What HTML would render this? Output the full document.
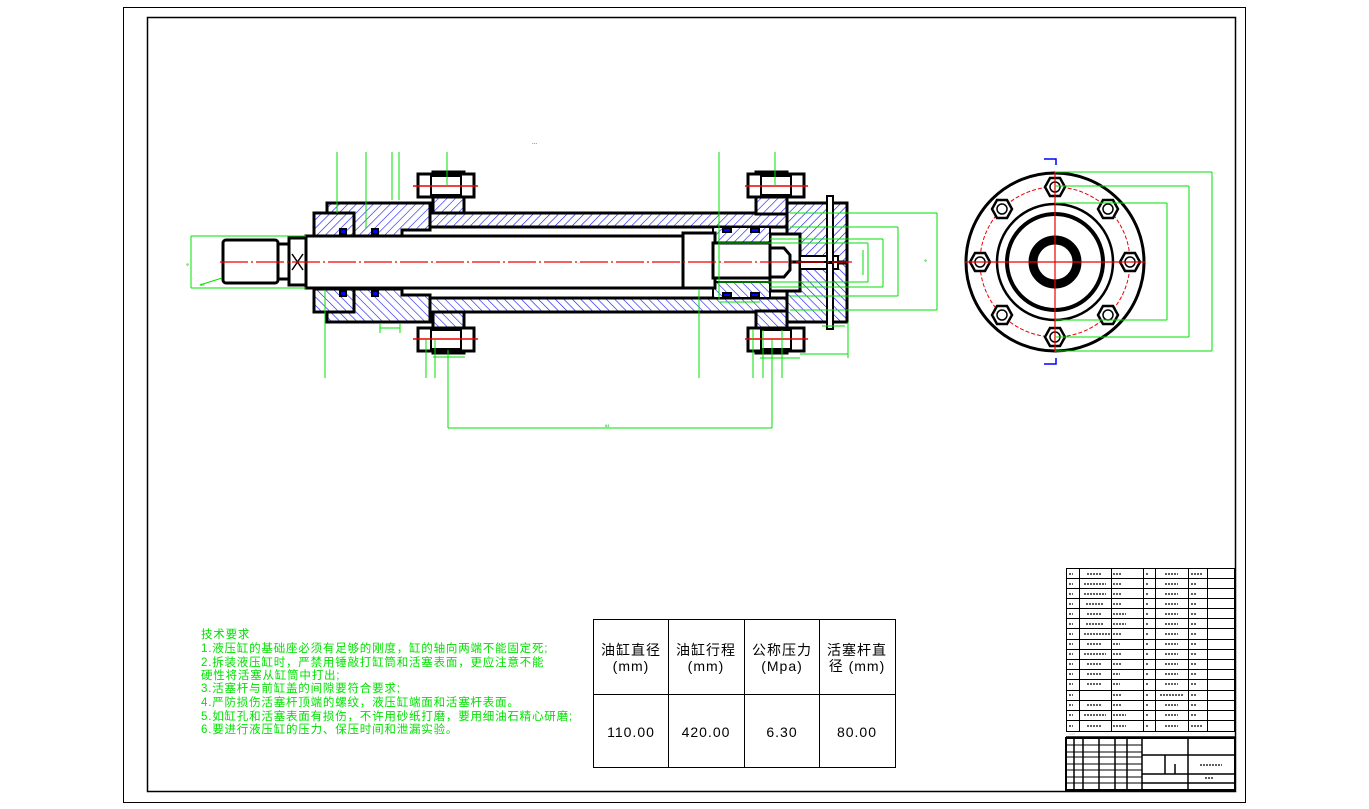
<!DOCTYPE html>
<html><head><meta charset="utf-8"><style>
html,body{margin:0;padding:0;background:#fff;}
svg{display:block;}
.t{font-family:"Liberation Sans","Noto Sans CJK SC",sans-serif;}
</style></head><body>
<svg width="1369" height="809" viewBox="0 0 1369 809" xmlns="http://www.w3.org/2000/svg">
<defs>
<pattern id="h" patternUnits="userSpaceOnUse" width="6" height="6" patternTransform="rotate(45)">
<rect width="6" height="6" fill="#fff"/><line x1="0" y1="0" x2="0" y2="6" stroke="#1010ff" stroke-width="1.2"/>
</pattern>
<g id="top">
<rect x="314" y="213" width="40" height="23" fill="url(#h)" stroke="#000" stroke-width="3"/>
<polygon points="327,203 430,203 430,230 402,230 402,236 354,236 354,213 327,213" fill="url(#h)" stroke="#000" stroke-width="3"/>
<rect x="433" y="172" width="31" height="42" fill="url(#h)" stroke="#000" stroke-width="3"/>
<rect x="430" y="213" width="360" height="14" fill="url(#h)" stroke="#000" stroke-width="3"/>
<rect x="756" y="172" width="31" height="42" fill="url(#h)" stroke="#000" stroke-width="3"/>
<rect x="787" y="203" width="60" height="59" fill="url(#h)" stroke="#000" stroke-width="3"/>
<rect x="770" y="234" width="30" height="29" fill="#fff" stroke="#000" stroke-width="3"/>
<rect x="800" y="256" width="38" height="7" fill="#fff" stroke="#000" stroke-width="2"/>
<rect x="713" y="227" width="57" height="16" fill="url(#h)" stroke="#000" stroke-width="2"/>
<rect x="340" y="229" width="6" height="5" fill="#00f" stroke="#000" stroke-width="2"/>
<rect x="372" y="229" width="6" height="5" fill="#00f" stroke="#000" stroke-width="2"/>
<rect x="723" y="228" width="8" height="4" fill="#00f" stroke="#000" stroke-width="2"/>
<rect x="751" y="228" width="8" height="4" fill="#00f" stroke="#000" stroke-width="2"/>
<rect x="418" y="174" width="56" height="23" fill="#fff" stroke="#000" stroke-width="3"/>
<rect x="431" y="176" width="30" height="19" fill="#fff" stroke="#000" stroke-width="2"/>
<rect x="748" y="174" width="56" height="23" fill="#fff" stroke="#000" stroke-width="3"/>
<rect x="761" y="176" width="30" height="19" fill="#fff" stroke="#000" stroke-width="2"/>
<line x1="413" y1="186" x2="478" y2="186" stroke="#e00" stroke-width="1.5"/>
<line x1="745" y1="186" x2="808" y2="186" stroke="#e00" stroke-width="1.5"/>
<rect x="827" y="196" width="6" height="66" fill="#fff" stroke="#000" stroke-width="2"/>
</g>
</defs>
<rect x="123.5" y="7.5" width="1122" height="795" fill="none" stroke="#000" stroke-width="1"/>
<rect x="147.5" y="17.5" width="1088" height="774" fill="none" stroke="#000" stroke-width="1.5"/>
<text x="532" y="144" font-size="6" fill="#00f" class="t">...</text>

<use href="#top"/>
<use href="#top" transform="translate(0,525) scale(1,-1)"/>
<rect x="306" y="236" width="386" height="52" fill="#fff" stroke="#000" stroke-width="3"/>
<rect x="683" y="233" width="32" height="55" fill="#fff" stroke="#000" stroke-width="3"/>
<rect x="713" y="243" width="57" height="35" fill="#fff" stroke="#000" stroke-width="3"/>
<polygon points="770,248 784,248 790,255 790,270 784,277 770,277" fill="#fff" stroke="#000" stroke-width="3"/>
<rect x="223" y="240" width="55" height="43" rx="3" fill="#fff" stroke="#000" stroke-width="3"/>
<rect x="278" y="244" width="11" height="35" fill="#fff" stroke="#000" stroke-width="3"/>
<rect x="289" y="238" width="17" height="47" fill="#fff" stroke="#000" stroke-width="3"/>
<path d="M292,254 L303,270 M303,254 L292,270" stroke="#000" stroke-width="1.5"/>
<line x1="220" y1="262" x2="852" y2="262" stroke="#e00" stroke-width="1.2" stroke-dasharray="28,3,2,3"/>

<g stroke="#00e000" stroke-width="1" fill="none">
<path d="M191,236 H306 M191,288 H306 M191,236 V288"/>
<path d="M200,285 L222,278"/>
<path d="M448,350 V428 M772,340 V428 M448,428 H772"/>
<path d="M337,152 V213 M366,152 V228 M392,152 V200 M399,152 V200 M447,152 V186 M719,152 V300 M775,152 V186"/>
<path d="M325,290 V378 M426,340 V378 M435,340 V378 M699,290 V378 M753,330 V378 M763,330 V378 M782,330 V378"/>
<path d="M790,213 H937 M790,310 H937 M937,213 V310"/>
<path d="M790,227 H898 M790,296 H898 M898,227 V296"/>
<path d="M770,239 H883 M770,287 H883 M883,239 V287"/>
<path d="M720,243 H868 M720,282 H868 M868,243 V282 M863,250 V275"/>
<path d="M380,328 H400 M380,323 V333 M400,323 V333"/>
<path d="M433,357 H465 M800,354 H848 M848,322 V358 M760,358 H800"/>
<path d="M822,326 H845 M719,302 H760"/>
</g>
<g font-size="4" fill="#00c000" class="t">
<text x="605" y="427">84</text><text x="186" y="266">Φ</text><text x="200" y="286">15</text>
<text x="924" y="262">Φ</text>
</g>

<g fill="none" stroke="#000">
<circle cx="1055" cy="262" r="89" stroke-width="3"/>
<circle cx="1055" cy="262" r="58" stroke-width="2.5"/>
<circle cx="1055" cy="262" r="48" stroke-width="4"/>
<circle cx="1055" cy="262" r="22" stroke-width="9"/>
<circle cx="1055" cy="262" r="75" stroke="#e00" stroke-width="1" stroke-dasharray="4,2"/>
</g>
<g stroke="#000" stroke-width="2.5" fill="#fff">
<polygon points="1065,187 1060,196 1050,196 1045,187 1050,178 1060,178"/>
<polygon points="1065,337 1060,346 1050,346 1045,337 1050,328 1060,328"/>
<polygon points="990,262 985,271 975,271 970,262 975,253 985,253"/>
<polygon points="1140,262 1135,271 1125,271 1120,262 1125,253 1135,253"/>
<polygon points="1012,209 1007,218 997,218 992,209 997,200 1007,200"/>
<polygon points="1118,209 1113,218 1103,218 1098,209 1103,200 1113,200"/>
<polygon points="1012,315 1007,324 997,324 992,315 997,306 1007,306"/>
<polygon points="1118,315 1113,324 1103,324 1098,315 1103,306 1113,306"/>
</g>
<g fill="none" stroke="#000" stroke-width="1.5">
<circle cx="1055" cy="187" r="5"/><circle cx="1055" cy="337" r="5"/><circle cx="980" cy="262" r="5"/><circle cx="1130" cy="262" r="5"/>
<circle cx="1002" cy="209" r="5"/><circle cx="1108" cy="209" r="5"/><circle cx="1002" cy="315" r="5"/><circle cx="1108" cy="315" r="5"/>
</g>
<path d="M965,262 H1145 M1055,172 V352" stroke="#e00" stroke-width="1.2"/>
<g stroke="#00e000" stroke-width="1" fill="none">
<path d="M1055,203 H1167 M1055,320 H1167 M1167,203 V320"/>
<path d="M1055,186 H1189 M1055,337 H1189 M1189,186 V337"/>
<path d="M1055,172 H1212 M1055,351 H1212 M1212,172 V351"/>
</g>
<g stroke="#00f" stroke-width="1.5" fill="none">
<path d="M1044,159 H1056 V165 M1044,364 H1056 V358"/>
</g>

<g font-size="11.5" fill="#00e000" class="t" letter-spacing="0.8">
<text x="201" y="638">技术要求</text>
<text x="201" y="652">1.液压缸的基础座必须有足够的刚度，缸的轴向两端不能固定死;</text>
<text x="201" y="666">2.拆装液压缸时，严禁用锤敲打缸筒和活塞表面，更应注意不能</text>
<text x="201" y="679">硬性将活塞从缸筒中打出;</text>
<text x="201" y="692">3.活塞杆与前缸盖的间隙要符合要求;</text>
<text x="201" y="706">4.严防损伤活塞杆顶端的螺纹，液压缸端面和活塞杆表面。</text>
<text x="201" y="720">5.如缸孔和活塞表面有损伤，不许用砂纸打磨，要用细油石精心研磨;</text>
<text x="201" y="733">6.要进行液压缸的压力、保压时间和泄漏实验。</text>
</g>

<g stroke="#000" stroke-width="1" fill="none">
<rect x="593.5" y="619.5" width="302" height="148"/>
<path d="M668.5,619 V768 M744.5,619 V768 M819.5,619 V768 M593,694.5 H896"/>
</g>
<g font-size="14" fill="#000" class="t" text-anchor="middle" letter-spacing="1">
<text x="631" y="655">油缸直径</text><text x="631" y="671">(mm)</text>
<text x="706" y="655">油缸行程</text><text x="706" y="671">(mm)</text>
<text x="782" y="655">公称压力</text><text x="782" y="671">(Mpa)</text>
<text x="857" y="655">活塞杆直</text><text x="857" y="671">径 (mm)</text>
<text x="631" y="737">110.00</text><text x="706" y="737">420.00</text>
<text x="782" y="737">6.30</text><text x="857" y="737">80.00</text>
</g>

<g stroke="#000" stroke-width="1" fill="none">
<rect x="1066.5" y="568.5" width="168" height="163"/>
<path d="M1079.5,569 V732 M1111.5,569 V732 M1143.5,569 V732 M1155.5,569 V732 M1188.5,569 V732 M1207.5,569 V732"/>
<path d="M1066,578.5 H1235 M1066,588.5 H1235 M1066,598.5 H1235 M1066,608.5 H1235 M1066,618.5 H1235 M1066,628.5 H1235 M1066,639.5 H1235 M1066,649.5 H1235 M1066,659.5 H1235 M1066,669.5 H1235 M1066,679.5 H1235 M1066,690.5 H1235 M1066,700.5 H1235 M1066,710.5 H1235 M1066,720.5 H1235"/>
</g>
<g stroke="#000" stroke-width="1.3" stroke-dasharray="2,1" fill="none">
<path d="M1069,574 H1073 M1087,574 H1101 M1113,574 H1122 M1146,574 H1149 M1165,574 H1178 M1191,574 H1202
M1069,584 H1073 M1084,584 H1106 M1113,584 H1122 M1146,584 H1149 M1165,584 H1178 M1191,584 H1196
M1069,594 H1073 M1084,594 H1106 M1113,594 H1122 M1146,594 H1149 M1165,594 H1178 M1191,594 H1196
M1069,604 H1073 M1086,604 H1104 M1113,604 H1122 M1146,604 H1149 M1165,604 H1178 M1191,604 H1196
M1069,614 H1073 M1087,614 H1101 M1113,614 H1126 M1146,614 H1149 M1165,614 H1178 M1191,614 H1196
M1069,624 H1073 M1086,624 H1104 M1113,624 H1126 M1146,624 H1149 M1165,624 H1178 M1191,624 H1196
M1069,634 H1073 M1084,634 H1110 M1113,634 H1122 M1146,634 H1149 M1165,634 H1178 M1191,634 H1196
M1069,644 H1073 M1087,644 H1101 M1113,644 H1120 M1146,644 H1149 M1165,644 H1178 M1191,644 H1196
M1069,654 H1073 M1084,654 H1106 M1113,654 H1122 M1146,654 H1149 M1165,654 H1178 M1191,654 H1196
M1069,664 H1073 M1087,664 H1101 M1113,664 H1122 M1146,664 H1149 M1165,664 H1178 M1191,664 H1196
M1069,674 H1073 M1087,674 H1101 M1113,674 H1120 M1146,674 H1149 M1165,674 H1178 M1191,674 H1196
M1069,684 H1073 M1087,684 H1101 M1113,684 H1120 M1146,684 H1149 M1165,684 H1178 M1191,684 H1196
M1069,695 H1073 M1113,695 H1122 M1146,695 H1149 M1160,695 H1184 M1191,695 H1196
M1069,705 H1073 M1087,705 H1101 M1113,705 H1122 M1146,705 H1149 M1165,705 H1178 M1191,705 H1196
M1069,715 H1073 M1084,715 H1106 M1113,715 H1126 M1146,715 H1149 M1165,715 H1178 M1191,715 H1196
M1069,726 H1073 M1087,726 H1101 M1113,726 H1126 M1146,726 H1149 M1165,726 H1178 M1191,726 H1202"/>
</g>
<g stroke="#000" fill="none">
<rect x="1066" y="738" width="169" height="52" stroke-width="2"/>
<path d="M1066,737 H1235" stroke-width="1.5"/>
<path d="M1074,738 V790 M1083,738 V790 M1099,738 V790 M1115,738 V790 M1127,738 V790 M1142,738 V790 M1188,738 V790" stroke-width="1.5"/>
<path d="M1066,745 H1142 M1066,752 H1142 M1066,757 H1142 M1066,764 H1142 M1066,770 H1142 M1066,777 H1142 M1066,783 H1142" stroke-width="1"/>
<path d="M1142,755 H1235 M1142,774 H1235 M1142,783 H1235 M1165,755 V774 M1175,764 V774" stroke-width="1.5"/>
<path d="M1200,765 H1222 M1205,778 H1214" stroke-width="1.3" stroke-dasharray="2,1"/>
</g>
<g font-size="3" fill="#000" class="t">
<text x="1069" y="735">:: ::::</text>
</g>
</svg>
</body></html>
